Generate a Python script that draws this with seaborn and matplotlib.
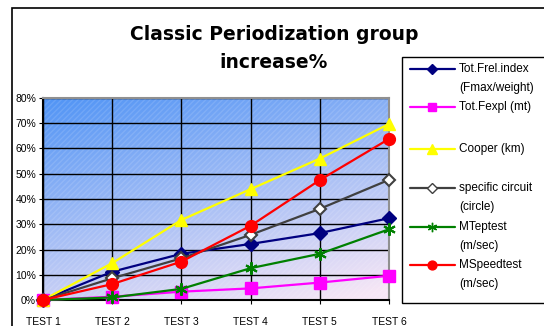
import numpy as np
import pandas as pd
import seaborn as sns
import matplotlib.pyplot as plt
from matplotlib.lines import Line2D
from matplotlib.patches import Rectangle

# data (fraction increase vs TEST 1)
tests = ['TEST 1', 'TEST 2', 'TEST 3', 'TEST 4', 'TEST 5', 'TEST 6']
frel_index = [0.0, 0.112, 0.183, 0.222, 0.265, 0.324]
fexpl = [0.0, 0.013, 0.033, 0.046, 0.069, 0.096]
cooper = [0.0, 0.146, 0.317, 0.439, 0.560, 0.697]
circuit = [0.0, 0.086, 0.165, 0.258, 0.361, 0.476]
mtep = [0.0, 0.010, 0.044, 0.126, 0.183, 0.280]
mspeed = [0.0, 0.063, 0.152, 0.294, 0.475, 0.638]

labels = ['Tot.Frel.index\n(Fmax/weight)', 'Tot.Fexpl (mt)', 'Cooper (km)',
          'specific circuit\n(circle)', 'MTeptest\n(m/sec)', 'MSpeedtest\n(m/sec)']
values = [frel_index, fexpl, cooper, circuit, mtep, mspeed]

# styles for each series
colors = ['#000080', '#ff00ff', '#ffff00', '#404040', '#008000', '#ff0000']
markers = ['D', 's', '^', 'D', (6, 2, 0), 'o']
faces = ['#000080', '#ff00ff', '#ffff00', 'white', '#008000', '#ff0000']
msizes = [7, 8, 9, 6.5, 9, 8.5]

df = pd.concat([pd.DataFrame({'test': tests, 'value': v, 'series': l})
                for v, l in zip(values, labels)], ignore_index=True)
df['x'] = df['test'].map({t: i for i, t in enumerate(tests)})

sns.set_style('white')
plt.rcParams['font.family'] = ['Liberation Sans', 'DejaVu Sans']
plt.rcParams['text.color'] = 'black'

W, H = 544, 326
fig = plt.figure(figsize=(W / 100, H / 100), dpi=100)
ax = fig.add_axes([43 / W, 1 - 300 / H, (389 - 43) / W, (300 - 98) / H])

# gradient background
nx, ny = 200, 200
gx, gy = np.meshgrid(np.linspace(0, 1, nx), np.linspace(1, 0, ny))
t = np.clip(0.72 * (1 - gy) + 0.32 * gx, 0, 1)[..., None]
c0 = np.array([80, 148, 245]) / 255
c1 = np.array([246, 230, 246]) / 255
img = c0 * (1 - t) + c1 * t
ax.imshow(img, extent=[0, 5, 0, 0.8], aspect='auto', zorder=0,
          interpolation='bilinear')
ax.add_patch(Rectangle((0, 0), 5, 0.8, facecolor='none', edgecolor='white',
                       hatch='//////', alpha=0.12, linewidth=0, zorder=0.5))

for i, l in enumerate(labels):
    sub = df[df['series'] == l]
    sns.lineplot(data=sub, x='x', y='value', ax=ax, color=colors[i],
                 marker=markers[i], markersize=msizes[i],
                 markerfacecolor=faces[i], markeredgecolor=colors[i],
                 markeredgewidth=1.5 if i in (3, 4) else 1, linewidth=1.6,
                 clip_on=False, zorder=3 + i, legend=False)

ax.set_xlim(0, 5)
ax.set_ylim(0, 0.8)
ax.set_xticks(range(len(tests)))
ax.set_xticklabels(tests)
ax.set_yticks(np.arange(0, 0.81, 0.1))
ax.set_yticklabels([f'{int(round(v * 100))}%' for v in np.arange(0, 0.81, 0.1)])
ax.set_xlabel('')
ax.set_ylabel('')
ax.tick_params(axis='both', labelsize=7.5, length=3, width=0.8, colors='black',
               labelcolor='black', direction='out', pad=2)
ax.tick_params(axis='x', pad=9)
ax.tick_params(left=True, bottom=True)

ax.grid(True, color='black', linewidth=1, zorder=1)
ax.set_axisbelow(True)
for g in ax.get_xgridlines() + ax.get_ygridlines():
    g.set_zorder(1)
ax.spines['left'].set_color('black')
ax.spines['bottom'].set_color('black')
ax.spines['top'].set_color('#909090')
ax.spines['right'].set_color('#909090')
for s in ax.spines.values():
    s.set_linewidth(1.5)
    s.set_zorder(2)

# outer chart border
fig.add_artist(Rectangle((12 / W, -0.1), 1.2, 1 - 8 / H + 0.1, fill=False,
                         edgecolor='black', linewidth=1.2,
                         transform=fig.transFigure, clip_on=False))

fig.text(274 / W, 1 - 35 / H, 'Classic Periodization group', ha='center',
         va='center', fontsize=13.5, fontweight='bold', family='DejaVu Sans',
         color='black')
fig.text(274 / W, 1 - 62 / H, 'increase%', ha='center', va='center',
         fontsize=13.5, fontweight='bold', family='DejaVu Sans', color='black')

# legend box
fig.add_artist(Rectangle((402 / W, 1 - 303 / H), 0.5, (303 - 57) / H,
                         facecolor='white', edgecolor='black', linewidth=1,
                         transform=fig.transFigure, clip_on=False, zorder=5))
entry_y = [69, 107, 149, 188, 227, 265]
for i, l in enumerate(labels):
    yy = 1 - entry_y[i] / H
    fig.add_artist(Line2D([410 / W, 455 / W], [yy, yy], color=colors[i],
                          linewidth=1.6, transform=fig.transFigure, zorder=6))
    fig.add_artist(Line2D([432 / W], [yy], color=colors[i], marker=markers[i],
                          markersize=msizes[i] * 0.75, markerfacecolor=faces[i],
                          markeredgecolor=colors[i], markeredgewidth=1,
                          transform=fig.transFigure, zorder=7))
    for k, line in enumerate(l.split('\n')):
        fig.text(459 / W, yy - k * 19 / H, line, ha='left', va='center',
                 fontsize=8.5, zorder=8, color='black')

fig.savefig('out.png', dpi=100)
